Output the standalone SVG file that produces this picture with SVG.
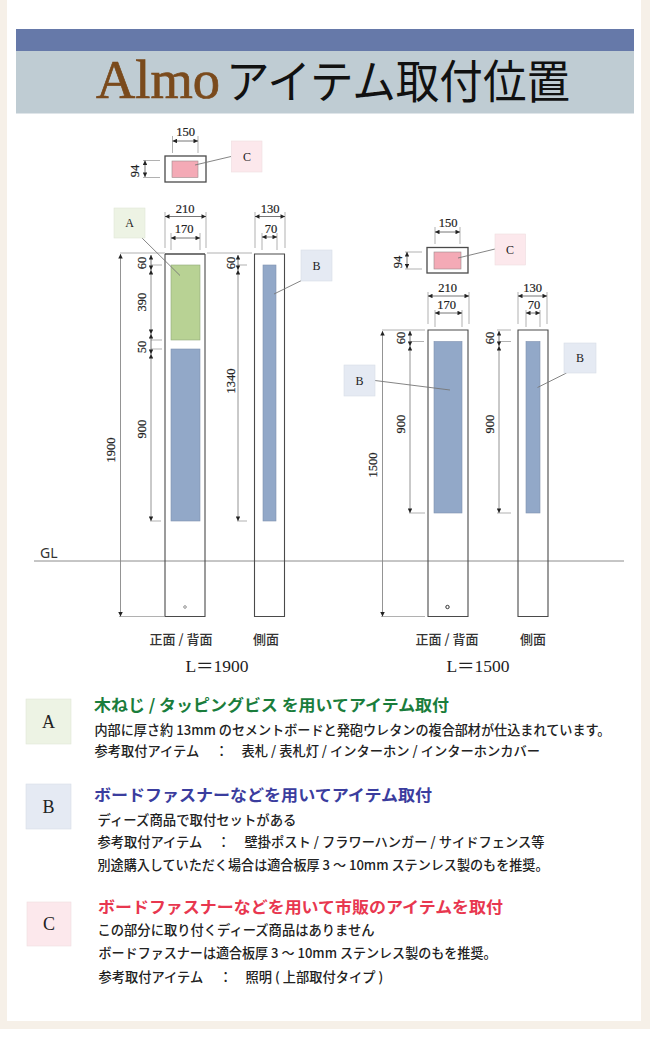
<svg xmlns="http://www.w3.org/2000/svg" width="650" height="1039" viewBox="0 0 650 1039">
<style>
.post{fill:#fff;stroke:#4a4a4a;stroke-width:1.3}
.blue{fill:#92a8c8;stroke:#7f92b0;stroke-width:.6}
.green{fill:#b8d294;stroke:#8fa878;stroke-width:.6}
.pink{fill:#f4aab6;stroke:#9a8a8c;stroke-width:.6}
.tagA{fill:#edf3e4;stroke:#e0e6d8;stroke-width:.6}
.tagB{fill:#e5eaf3;stroke:#d8dde6;stroke-width:.6}
.tagC{fill:#fce8ec;stroke:#efdcdf;stroke-width:.6}
.ext{stroke:#a8a8a8;stroke-width:.9;fill:none}
.dim{stroke:#666;stroke-width:.9;fill:none;marker-start:url(#ah);marker-end:url(#ah)}
.dimb{stroke:#888;stroke-width:.9;fill:none;marker-start:url(#ah);marker-end:url(#ah)}
.lead{stroke:#777;stroke-width:.9;fill:none}
.gl{stroke:#8c8c8c;stroke-width:1;fill:none}
text{font-family:"Liberation Serif","Noto Sans CJK JP",serif;fill:#222}
.n{font-size:12.5px;text-anchor:middle;fill:#222;stroke:#222;stroke-width:.2}
.tag{font-size:12px;text-anchor:middle}
.tag2{font-size:18px;text-anchor:middle}
.view{font-size:13px;text-anchor:middle;font-family:"Noto Sans CJK JP","Liberation Serif",serif;font-weight:500;fill:#333}
.len{font-size:17.500px;text-anchor:middle}
.h{font-family:"Noto Sans CJK JP","Noto Sans",sans-serif;font-size:16px;font-weight:700}
.b{font-family:"Noto Sans CJK JP","Noto Sans",sans-serif;font-size:13.250px;font-weight:500;fill:#222}
</style>
<defs>
<marker id="ah" viewBox="0 0 6 6" refX="6" refY="3" markerUnits="userSpaceOnUse" markerWidth="5" markerHeight="4.5" orient="auto-start-reverse"><path d="M0 0L6 3L0 6Z" fill="#222"/></marker>
</defs>
<rect width="650" height="1029" fill="#f6f0e8"/>
<rect y="1029" width="650" height="10" fill="#fff"/>
<rect x="7" width="634" height="1021" fill="#fff"/>
<g id="header">
<rect x="16" y="29" width="618" height="22" fill="#6679a9"/>
<rect x="16" y="51" width="618" height="62.500" fill="#bfccd3"/>
<text x="96" y="98" font-size="55" textLength="124" lengthAdjust="spacingAndGlyphs" style="fill:#7a4a1c;stroke:#7a4a1c;stroke-width:.7">Almo</text>
<text x="226" y="98" font-size="46" textLength="344" lengthAdjust="spacingAndGlyphs" style="font-family:'Noto Sans CJK JP',sans-serif;fill:#111">アイテム取付位置</text>
</g>
<g id="connectors">
<line class="gl" x1="34" y1="561" x2="624" y2="561"/>
<path class="ext" d="M172.500 136V153M198 136V153M143 160.500H160M143 177.500H160"/>
<line class="dim" x1="172.500" y1="141" x2="198" y2="141"/>
<line class="dim" x1="145" y1="160.500" x2="145" y2="177"/>
<path class="ext" d="M165 212V248M206 212V248M171 233V250M200 233V250M255 212V248M285 212V248M262 233V250M277 233V250"/>
<line class="dim" x1="165" y1="216.500" x2="206" y2="216.500"/>
<line class="dim" x1="171" y1="238" x2="200" y2="238"/>
<line class="dim" x1="255" y1="216.500" x2="285" y2="216.500"/>
<line class="dim" x1="262" y1="237" x2="277" y2="237"/>
<path class="ext" d="M120 253H165M207 253H252M151 265H162M151 340H162M151 349H162M150 521H161M238 265H247M237 521H247M119 616.500H164"/>
<line class="dimb" x1="120.500" y1="254" x2="120.500" y2="616.500"/>
<line class="dim" x1="151" y1="255" x2="151" y2="270"/>
<line class="dimb" x1="151" y1="270" x2="151" y2="334"/>
<line class="dim" x1="151" y1="334" x2="151" y2="354"/>
<line class="dimb" x1="151" y1="354" x2="151" y2="521"/>
<line class="dim" x1="238" y1="255" x2="238" y2="270"/>
<line class="dimb" x1="238" y1="270" x2="238" y2="521"/>
<path class="ext" d="M435 227V244M460 227V244M405 252H422M405 269H422"/>
<line class="dim" x1="435" y1="232" x2="460" y2="232"/>
<line class="dim" x1="407" y1="252" x2="407" y2="268.500"/>
<path class="ext" d="M428 292V324M469 292V324M435 310V327M462 310V327M518 292V324M547 292V324M526 310V327M540 310V327"/>
<line class="dim" x1="428" y1="296" x2="469" y2="296"/>
<line class="dim" x1="435" y1="313" x2="462" y2="313"/>
<line class="dim" x1="518" y1="296" x2="547" y2="296"/>
<line class="dim" x1="526" y1="313" x2="540" y2="313"/>
<path class="ext" d="M382 330H425M410 341.500H424M409 513H425M381 616.500H425M497 330H511M499 341.500H511M497 513H511"/>
<line class="dimb" x1="382.500" y1="331" x2="382.500" y2="616.500"/>
<line class="dim" x1="410" y1="331" x2="410" y2="346"/>
<line class="dimb" x1="410" y1="346" x2="410" y2="513"/>
<line class="dim" x1="499" y1="331" x2="499" y2="346"/>
<line class="dimb" x1="499" y1="346" x2="499" y2="513"/>
</g>
<g id="mount-c-1900">
<rect class="post" x="165" y="156" width="41" height="26"/>
<rect class="pink" x="172" y="161" width="26" height="16.500"/>
</g>
<g id="post-front-1900">
<line class="post" x1="165" y1="254" x2="205" y2="254"/>
<path d="M165 254V616.500H205V254" fill="none" stroke="#4a4a4a" stroke-width="1.100"/>
<rect class="green" x="171" y="265" width="29" height="75"/>
<rect class="blue" x="171" y="349" width="29" height="172"/>
<circle cx="185" cy="607" r="1.300" fill="#fff" stroke="#777" stroke-width=".8"/>
</g>
<g id="post-side-1900">
<path d="M254.500 254H284.500V616.500H254.500Z" fill="none" stroke="#4a4a4a" stroke-width="1.100"/>
<rect class="blue" x="263" y="265" width="13" height="256"/>
</g>
<g id="mount-c-1500">
<rect class="post" x="427" y="247.500" width="41" height="25.500"/>
<rect class="pink" x="434" y="252" width="27" height="17"/>
</g>
<g id="post-front-1500">
<path d="M428 330H468V616.500H428Z" fill="none" stroke="#4a4a4a" stroke-width="1.100"/>
<rect class="blue" x="434" y="341.500" width="28" height="171.500"/>
<circle cx="447.500" cy="607" r="1.700" fill="#fff" stroke="#333" stroke-width="1"/>
</g>
<g id="post-side-1500">
<path d="M518 330H548V616.500H518Z" fill="none" stroke="#4a4a4a" stroke-width="1.100"/>
<rect class="blue" x="526" y="341.500" width="14" height="171.500"/>
</g>
<g id="leaders">
<line class="lead" x1="142" y1="238" x2="180" y2="275.500"/>
<line class="lead" x1="302.500" y1="280" x2="274" y2="294"/>
<line class="lead" x1="231" y1="156.500" x2="195" y2="165"/>
<line class="lead" x1="495" y1="249" x2="458" y2="258"/>
<line class="lead" x1="375" y1="380.500" x2="450" y2="390"/>
<line class="lead" x1="566.500" y1="373" x2="537.500" y2="387.500"/>
</g>
<g id="tag-a"><rect class="tagA" x="114" y="208" width="31" height="30"/><text class="tag" x="129.500" y="227">A</text></g>
<g id="tag-b-1900"><rect class="tagB" x="301" y="250" width="31" height="31"/><text class="tag" x="316.500" y="270">B</text></g>
<g id="tag-c-1900"><rect class="tagC" x="231.500" y="141" width="30.500" height="31"/><text class="tag" x="247" y="161">C</text></g>
<g id="tag-c-1500"><rect class="tagC" x="495" y="234" width="30.500" height="31"/><text class="tag" x="510" y="254">C</text></g>
<g id="tag-b-1500-l"><rect class="tagB" x="344" y="365" width="31" height="31"/><text class="tag" x="359.500" y="385">B</text></g>
<g id="tag-b-1500-r"><rect class="tagB" x="564" y="343" width="32" height="30"/><text class="tag" x="580" y="362">B</text></g>
<g id="dim-labels">
<text class="n" x="185.500" y="136">150</text>
<text class="n" x="185" y="213">210</text>
<text class="n" x="184" y="233">170</text>
<text class="n" x="270" y="213">130</text>
<text class="n" x="271" y="233">70</text>
<text class="n" transform="translate(139 171) rotate(-90)">94</text>
<text class="n" transform="translate(146 263) rotate(-90)">60</text>
<text class="n" transform="translate(146 302) rotate(-90)">390</text>
<text class="n" transform="translate(146 347) rotate(-90)">50</text>
<text class="n" transform="translate(146 429) rotate(-90)">900</text>
<text class="n" transform="translate(115 450) rotate(-90)">1900</text>
<text class="n" transform="translate(235 263) rotate(-90)">60</text>
<text class="n" transform="translate(235 381) rotate(-90)">1340</text>
<text class="n" x="448" y="227">150</text>
<text class="n" x="447.500" y="292">210</text>
<text class="n" x="446.500" y="309">170</text>
<text class="n" x="532.500" y="292">130</text>
<text class="n" x="534" y="309">70</text>
<text class="n" transform="translate(402 262) rotate(-90)">94</text>
<text class="n" transform="translate(405 338) rotate(-90)">60</text>
<text class="n" transform="translate(405 424) rotate(-90)">900</text>
<text class="n" transform="translate(494 338) rotate(-90)">60</text>
<text class="n" transform="translate(494 424) rotate(-90)">900</text>
<text class="n" transform="translate(377 465) rotate(-90)">1500</text>
<text x="40" y="558" style="font-family:'Noto Sans','Liberation Sans',sans-serif;font-size:14px;fill:#333">GL</text>
<text class="view" x="181" y="644">正面 / 背面</text>
<text class="view" x="266" y="644">側面</text>
<text class="view" x="447" y="644">正面 / 背面</text>
<text class="view" x="533" y="644">側面</text>
<text class="len" x="217" y="672">L＝1900</text>
<text class="len" x="478" y="672">L＝1500</text>
</g>
<g id="legend-a">
<rect class="tagA" x="26" y="699" width="45" height="45"/>
<text class="tag2" x="48.500" y="728">A</text>
<text class="h" x="94" y="711" textLength="355" lengthAdjust="spacingAndGlyphs" style="fill:#1a7d3c">木ねじ / タッピングビス を用いてアイテム取付</text>
<text class="b" x="94.500" y="735" textLength="516" lengthAdjust="spacingAndGlyphs">内部に厚さ約 13mm のセメントボードと発砲ウレタンの複合部材が仕込まれています。</text>
<text class="b" y="756"><tspan x="94.500">参考取付アイテム</tspan><tspan x="215">：</tspan><tspan x="241.500">表札 / 表札灯 / インターホン / インターホンカバー</tspan></text>
</g>
<g id="legend-b">
<rect class="tagB" x="26" y="784" width="45" height="45"/>
<text class="tag2" x="48.500" y="813">B</text>
<text class="h" x="94" y="801" textLength="338" lengthAdjust="spacingAndGlyphs" style="fill:#3b3d9e">ボードファスナーなどを用いてアイテム取付</text>
<text class="b" x="97.500" y="825" textLength="199" lengthAdjust="spacingAndGlyphs">ディーズ商品で取付セットがある</text>
<text class="b" y="847"><tspan x="97.500">参考取付アイテム</tspan><tspan x="217">：</tspan><tspan x="244.500">壁掛ポスト / フラワーハンガー / サイドフェンス等</tspan></text>
<text class="b" x="97.500" y="870" textLength="451" lengthAdjust="spacingAndGlyphs">別途購入していただく場合は適合板厚 3 ～ 10mm ステンレス製のもを推奨。</text>
</g>
<g id="legend-c">
<rect class="tagC" x="27" y="902" width="44" height="44"/>
<text class="tag2" x="49" y="930">C</text>
<text class="h" x="98" y="913" textLength="405" lengthAdjust="spacingAndGlyphs" style="fill:#e8374f">ボードファスナーなどを用いて市販のアイテムを取付</text>
<text class="b" x="97.500" y="935" textLength="277" lengthAdjust="spacingAndGlyphs">この部分に取り付くディーズ商品はありません</text>
<text class="b" x="98.500" y="958" textLength="398" lengthAdjust="spacingAndGlyphs">ボードファスナーは適合板厚 3 ～ 10mm ステンレス製のもを推奨。</text>
<text class="b" y="982"><tspan x="98.500">参考取付アイテム</tspan><tspan x="219">：</tspan><tspan x="245.500">照明 ( 上部取付タイプ )</tspan></text>
</g>
</svg>
